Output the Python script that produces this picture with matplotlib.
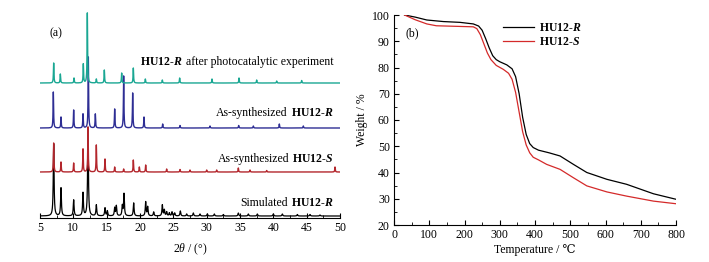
import matplotlib
matplotlib.use('Agg')
import matplotlib.pyplot as plt
import numpy as np
from matplotlib.offsetbox import TextArea, HPacker, AnnotationBbox
from matplotlib.ticker import MultipleLocator

plt.rcParams['font.family'] = ['Liberation Serif', 'DejaVu Serif']
plt.rcParams['mathtext.fontset'] = 'custom'
plt.rcParams['mathtext.rm'] = 'Liberation Serif'
plt.rcParams['mathtext.it'] = 'Liberation Serif:italic'
plt.rcParams['mathtext.bf'] = 'Liberation Serif:bold'
plt.rcParams['mathtext.bfit'] = 'Liberation Serif:bold:italic'

#----------------------- XRD peak lists (2theta, height)
sim_pos = [7.05, 8.15, 10.05, 11.45, 12.2, 13.45, 14.75, 15.1, 16.2, 16.45, 17.35, 17.6,
           19.05, 20.85, 21.15, 22.05, 23.35, 23.65, 24.0, 24.4, 24.8, 25.2, 26.05, 27.0,
           28.0, 29.0, 30.1, 31.15, 32.5, 34.75, 36.25, 37.6, 40.0, 41.35, 43.6, 45.5, 47.0]
sim_h = [72, 28, 16, 23, 88, 11, 8, 5, 8, 10, 10, 22,
         13, 14, 9, 4, 11, 6, 4, 3, 4, 3, 5, 2,
         3, 2, 2, 2, 1.5, 3, 2, 2, 2, 2, 1.5, 1.5, 1]

s_pos = [7.05, 8.15, 10.05, 11.45, 12.2, 13.45, 14.75, 16.2, 17.55, 19.0, 19.9, 20.85,
         24.0, 26.0, 27.5, 30.0, 31.5, 34.75, 36.5, 39.0, 49.25]
s_h = [29, 10, 9, 23, 45, 27, 13, 5, 3, 12, 5, 7,
       3, 2.5, 2, 2, 2, 4, 2, 1.5, 5]

r_pos = [7.0, 8.15, 10.05, 11.45, 12.25, 13.3, 16.2, 17.55, 18.9, 20.6, 23.4, 26.0,
         30.5, 34.8, 37.0, 40.9, 44.5]
r_h = [36, 11, 18, 14, 71, 14, 19, 52, 35, 11, 4, 2.5,
       2, 2.5, 2, 4, 2]

used_pos = [7.05, 8.05, 10.1, 11.5, 12.1, 13.45, 14.65, 17.25, 19.0, 20.8, 23.35, 25.95,
            30.8, 34.85, 37.5, 40.5, 44.25]
used_h = [20, 9, 5, 19, 70, 4, 13, 10, 15, 4, 3, 5,
          4, 5, 3, 2, 2.5]

#----------------------- TGA curves
t_r = [30, 60, 93, 140, 187, 225, 240, 250, 260, 270, 280, 290, 300, 320, 335, 345, 355,
       365, 375, 385, 395, 410, 440, 471, 509, 547, 604, 660, 736, 800]
w_r = [100, 99.2, 98.1, 97.5, 97.2, 96.6, 95.8, 94.2, 91.0, 87.5, 84.5, 83.0, 82.2, 81.0, 79.5,
       76.5, 70.0, 61.0, 54.5, 51.0, 49.5, 48.5, 47.5, 46.3, 43.1, 40.0, 37.4, 35.5, 31.9, 29.8]

t_s = [30, 60, 93, 120, 225, 235, 245, 255, 265, 275, 290, 310, 325, 335, 345, 355,
       365, 375, 385, 395, 410, 433, 471, 509, 547, 604, 660, 736, 800]
w_s = [100, 98.2, 96.6, 95.9, 95.5, 94.8, 92.5, 89.0, 85.5, 83.0, 80.8, 79.3, 77.8, 75.5, 70.5,
       63.0, 55.5, 50.5, 47.5, 45.8, 44.8, 43.1, 41.2, 38.0, 34.9, 32.6, 31.0, 29.1, 28.1]


def profile(x, pos, h, w):
    y = np.zeros_like(x)
    for p, a in zip(pos, h):
        y = y + a / (1 + ((x - p) / w) ** 2)
    return y


fig = plt.figure(figsize=(7.09, 2.62), dpi=100)

#----------------------- (a)
ax1 = fig.add_axes([40 / 709, 1 - 218 / 262, 300 / 709, 213 / 262])
tt = np.arange(5, 50.001, 0.01)
ax1.plot(tt, 2 + profile(tt, sim_pos, sim_h, 0.07), color='black', lw=0.9)
ax1.plot(tt, 46 + profile(tt, s_pos, s_h, 0.045), color='#b3262c', lw=1.0)
ax1.plot(tt, 90 + profile(tt, r_pos, r_h, 0.045), color='#2e2e94', lw=1.0)
ax1.plot(tt, 135 + profile(tt, used_pos, used_h, 0.045), color='#1aa793', lw=1.0)
ax1.set_xlim(5, 50)
ax1.set_ylim(0, 213)
for s in ['left', 'right', 'top']:
    ax1.spines[s].set_visible(False)
ax1.spines['bottom'].set_linewidth(0.8)
ax1.set_yticks([])
ax1.xaxis.set_major_locator(MultipleLocator(5))
ax1.xaxis.set_minor_locator(MultipleLocator(2.5))
ax1.tick_params(axis='x', which='both', direction='in', labelsize=8.5, pad=3)
ax1.tick_params(axis='x', which='major', length=3.5, width=0.8)
ax1.tick_params(axis='x', which='minor', length=2, width=0.6)
ax1.set_xlabel(r'$2\theta$ / (°)', fontsize=8.5, labelpad=5)
ax1.text(7.4, 185, '(a)', fontsize=8.5, ha='center', va='center')

fs = 8.5
normal = dict(fontsize=fs, family='Liberation Serif')
bold = dict(fontsize=fs, family='Liberation Serif', weight='bold')


def label(ax, x, y, pre, letter, post):
    kids = []
    if pre:
        kids.append(TextArea(pre, textprops=normal))
    kids.append(TextArea('HU12-$\\mathbfit{' + letter + '}$', textprops=bold))
    if post:
        kids.append(TextArea(post, textprops=normal))
    box = HPacker(children=kids, pad=0, sep=2, align='baseline')
    ab = AnnotationBbox(box, (x, y), xycoords='data', box_alignment=(1, 0.5), frameon=False, pad=0)
    ax.add_artist(ab)


label(ax1, 49.0, 156, '', 'R', 'after photocatalytic experiment')
label(ax1, 49.0, 105, 'As-synthesized', 'R', '')
label(ax1, 49.0, 59, 'As-synthesized', 'S', '')
label(ax1, 49.0, 15, 'Simulated', 'R', '')

#----------------------- (b)
ax2 = fig.add_axes([394 / 709, 1 - 225 / 262, 282 / 709, 210 / 262])
ax2.plot(t_r, w_r, color='black', lw=0.9, label=r'HU12-$\mathbfit{R}$')
ax2.plot(t_s, w_s, color='#d42a2a', lw=0.9, label=r'HU12-$\mathbfit{S}$')
ax2.set_xlim(0, 800)
ax2.set_ylim(20, 100)
for s in ['right', 'top']:
    ax2.spines[s].set_visible(False)
for s in ['left', 'bottom']:
    ax2.spines[s].set_linewidth(0.8)
ax2.xaxis.set_major_locator(MultipleLocator(100))
ax2.xaxis.set_minor_locator(MultipleLocator(50))
ax2.yaxis.set_major_locator(MultipleLocator(10))
ax2.yaxis.set_minor_locator(MultipleLocator(5))
ax2.tick_params(which='both', direction='in', labelsize=8.5, pad=3)
ax2.tick_params(which='major', length=3.5, width=0.8)
ax2.tick_params(which='minor', length=2, width=0.6)
ax2.set_xlabel('Temperature / ℃', fontsize=8.5, labelpad=2)
ax2.set_ylabel('Weight / %', fontsize=8.5, labelpad=3)
ax2.text(51, 93, '(b)', fontsize=8.5, ha='center', va='center')
ax2.legend(frameon=False, loc='upper left', bbox_to_anchor=(0.387, 0.965), borderaxespad=0,
           borderpad=0, handlelength=2.6, handletextpad=0.4, labelspacing=0.15,
           prop=dict(family='Liberation Serif', weight='bold', size=8.5))

fig.savefig('out.png', dpi=100)
